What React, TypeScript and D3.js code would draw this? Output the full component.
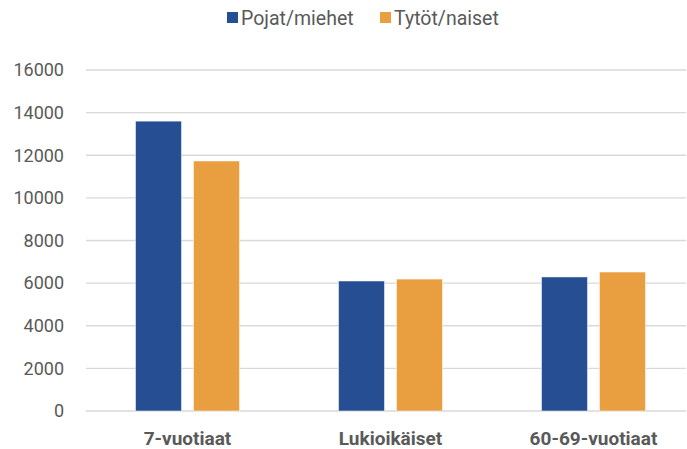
import * as d3 from "d3"

const categories = ["7-vuotiaat", "Lukioikäiset", "60-69-vuotiaat"]
const seriesNames = ["Pojat/miehet", "Tytöt/naiset"]
const boys = [13600, 6100, 6290]
const girls = [11730, 6190, 6520]
const yTicks = [0, 2000, 4000, 6000, 8000, 10000, 12000, 14000, 16000]
const colors = ["#264F93", "#E99E40"]

const width = 687
const height = 449

export default function App() {
  const margin = { left: 86, right: -8, top: 70, bottom: 38 }
  const x = d3
    .scaleBand()
    .domain(categories)
    .range([margin.left, width - margin.right])
  const inner = d3
    .scaleBand()
    .domain(seriesNames)
    .range([0, x.bandwidth()])
    .paddingInner(0.207)
    .paddingOuter(0.854)
  const y = d3
    .scaleLinear()
    .domain([0, 16000])
    .range([height - margin.bottom, margin.top])

  const series = [boys, girls]
  const font = "Roboto, 'Liberation Sans', sans-serif"

  return (
    <svg
      width={width}
      height={height}
      style={{ position: "absolute", left: 0, top: 0, background: "#fff" }}
      fontFamily={font}
    >
      {yTicks.map((t) => (
        <g key={t}>
          <line x1={margin.left} x2={686} y1={y(t)} y2={y(t)} stroke="#d9d9d9" strokeWidth={1.3} />
          <text x={64} y={y(t)} dy="0.35em" textAnchor="end" fontSize={18} fill="#595959">
            {t}
          </text>
        </g>
      ))}
      {categories.map((c, ci) => (
        <g key={c}>
          {seriesNames.map((s, si) => (
            <rect
              key={s}
              x={(x(c) || 0) + (inner(s) || 0)}
              y={y(series[si][ci])}
              width={inner.bandwidth()}
              height={y(0) - y(series[si][ci])}
              fill={colors[si]}
              stroke="#fff"
              strokeOpacity={0.5}
              strokeWidth={1}
            />
          ))}
          <text
            x={(x(c) || 0) + x.bandwidth() / 2}
            y={445}
            textAnchor="middle"
            fontSize={19}
            fontWeight="bold"
            fill="#595959"
          >
            {c}
          </text>
        </g>
      ))}
      {seriesNames.map((s, si) => {
        const lx = [227, 380][si]
        return (
          <g key={s}>
            <rect x={lx} y={12} width={11} height={11} fill={colors[si]} />
            <text x={lx + 14} y={24.5} fontSize={19.5} fill="#595959">
              {s}
            </text>
          </g>
        )
      })}
    </svg>
  )
}
